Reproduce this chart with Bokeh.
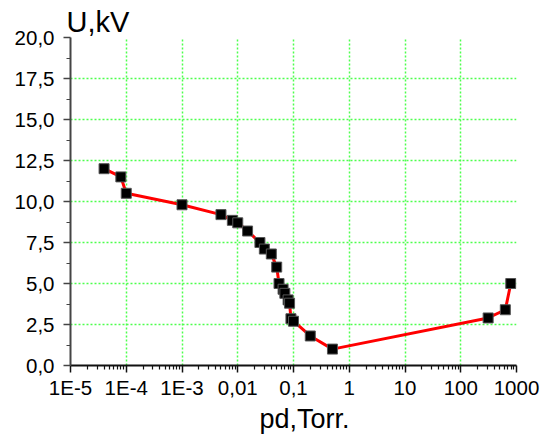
from bokeh.plotting import figure
from bokeh.models import Range1d, FixedTicker, Title
from bokeh.embed import file_html
from bokeh.resources import INLINE

# ---- data ----
pd_torr = [4e-5, 8e-5, 1e-4, 1e-3, 5e-3, 8e-3, 0.01, 0.015, 0.025, 0.03, 0.04,
           0.05, 0.055, 0.065, 0.07, 0.08, 0.085, 0.09, 0.1, 0.2, 0.5,
           310.0, 630.0, 790.0]
u_kv = [12.0, 11.5, 10.5, 9.8, 9.2, 8.85, 8.7, 8.2, 7.5, 7.1, 6.8,
        6.0, 5.0, 4.65, 4.4, 4.0, 3.8, 2.85, 2.7, 1.8, 1.0,
        2.9, 3.4, 5.0]

x_ticks = [1e-5, 1e-4, 1e-3, 0.01, 0.1, 1.0, 10.0, 100.0, 1000.0]
x_tick_labels = ["1E-5", "1E-4", "1E-3", "0,01", "0,1", "1", "10", "100", "1000"]
y_ticks = [0.0, 2.5, 5.0, 7.5, 10.0, 12.5, 15.0, 17.5, 20.0]
y_tick_labels = ["0,0", "2,5", "5,0", "7,5", "10,0", "12,5", "15,0", "17,5", "20,0"]
x_title = "pd,Torr."
y_title = "U,kV"

FONT = "Liberation Sans"

x_minor = [k * d for d in x_ticks[:-1] for k in range(2, 10)]
y_minor = [(a + b) / 2 for a, b in zip(y_ticks[:-1], y_ticks[1:])]

p = figure(width=545, height=434, x_axis_type="log",
           x_range=Range1d(x_ticks[0], x_ticks[-1]),
           y_range=Range1d(y_ticks[0], y_ticks[-1]),
           output_backend="svg", toolbar_location=None,
           min_border_left=70, min_border_right=29,
           min_border_top=37, min_border_bottom=69)
p.outline_line_color = None
p.background_fill_color = "white"

# axes
p.xaxis.ticker = FixedTicker(ticks=x_ticks, minor_ticks=x_minor)
p.xaxis.major_label_overrides = dict(zip(x_ticks, x_tick_labels))
p.yaxis.ticker = FixedTicker(ticks=y_ticks, minor_ticks=y_minor)
p.yaxis.major_label_overrides = dict(zip(y_ticks, y_tick_labels))

for ax in (p.xaxis, p.yaxis):
    ax.major_label_text_font = FONT
    ax.major_label_text_font_size = "20.5px"
    ax.major_label_text_color = "black"
    ax.major_tick_in = 0
    ax.major_tick_out = 7
    ax.minor_tick_in = 0
    ax.minor_tick_out = 4
    ax.axis_line_width = 2
    ax.major_tick_line_width = 1.5
    ax.minor_tick_line_width = 1.2
p.xaxis.axis_line_color = "#111111"
p.xaxis.major_tick_line_color = "#111111"
p.xaxis.minor_tick_line_color = "#111111"
p.yaxis.axis_line_color = "#444444"
p.yaxis.major_tick_line_color = "#444444"
p.yaxis.minor_tick_line_color = "#444444"
p.xaxis.major_label_standoff = 3
p.yaxis.major_label_standoff = 9

# grid (interior lines only)
p.xgrid.ticker = FixedTicker(ticks=x_ticks[1:-1])
p.ygrid.ticker = FixedTicker(ticks=y_ticks[1:-1])
for g in (p.xgrid, p.ygrid):
    g.grid_line_color = "#4dff4d"
    g.grid_line_dash = "2 2"
    g.grid_line_width = 1.5

# data
p.line(pd_torr, u_kv, line_color="#ff0000", line_width=3)
p.scatter(pd_torr, u_kv, marker="square", size=10, fill_color="black",
          line_color="#555555", line_width=1)

# axis titles
p.add_layout(Title(text=y_title, text_font=FONT, text_font_size="29px",
                   text_font_style="normal", text_color="black",
                   align="left", offset=-4, standoff=0), "above")
p.add_layout(Title(text=x_title, text_font=FONT, text_font_size="27px",
                   text_font_style="normal", text_color="black",
                   align="left", offset=189, standoff=0), "below")

open("out.html", "w").write(file_html(p, INLINE))
